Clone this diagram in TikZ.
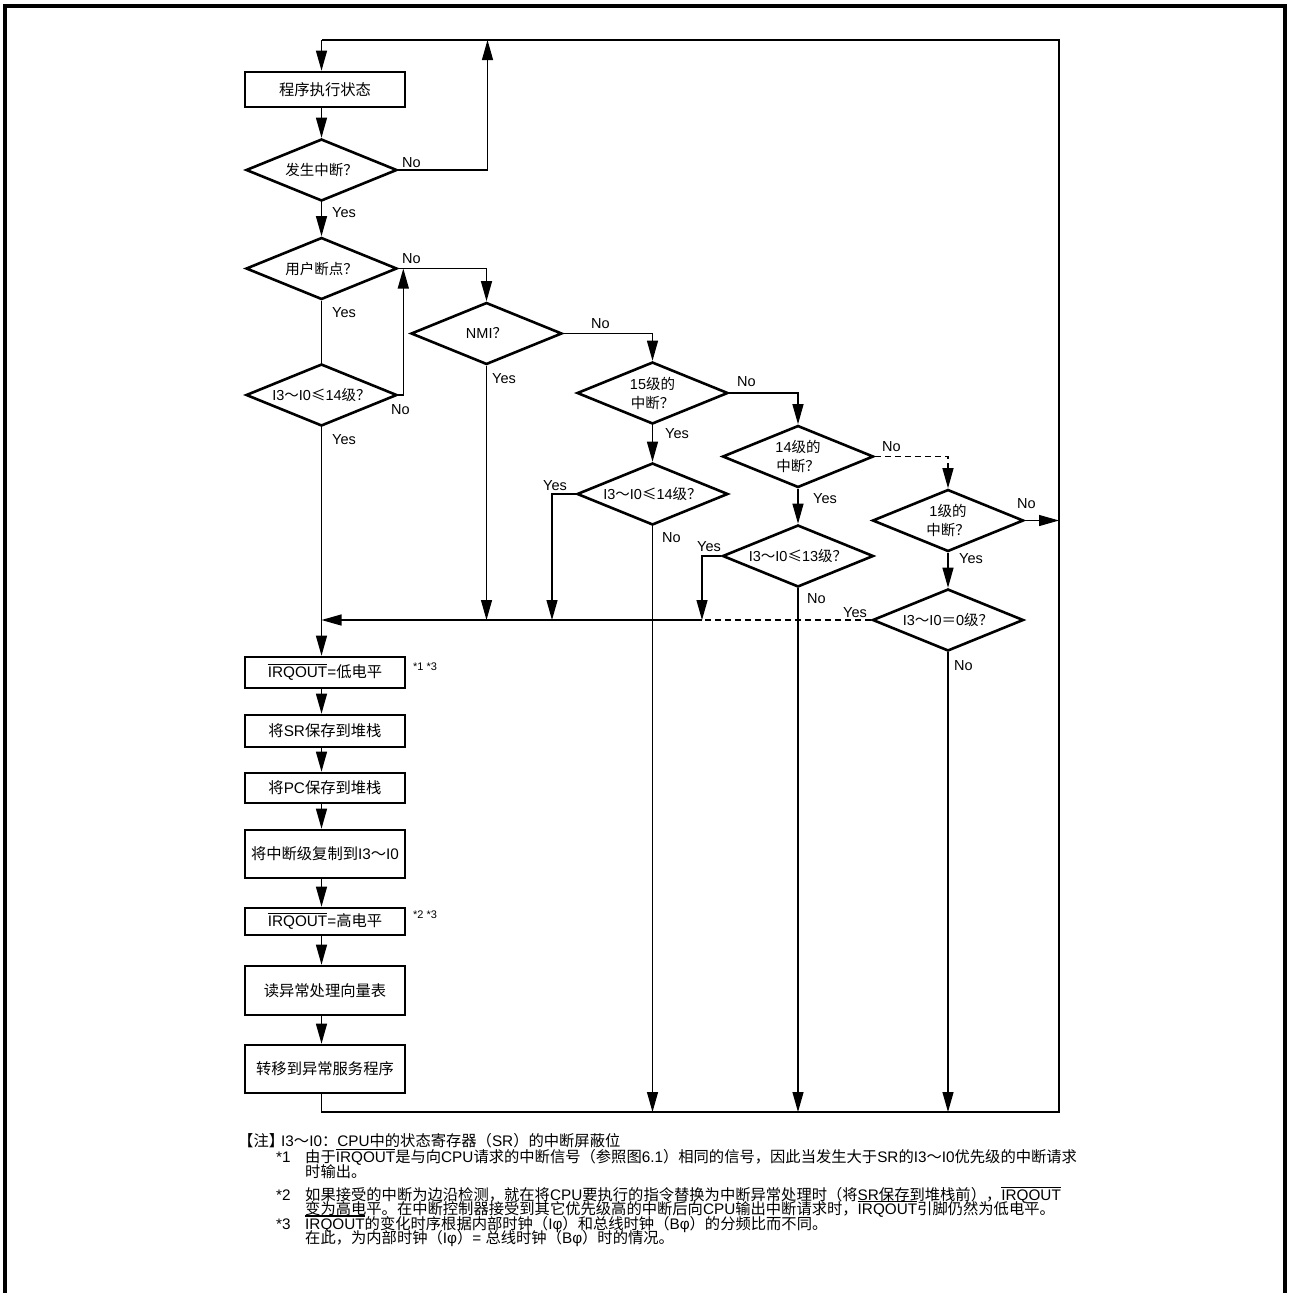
\documentclass[tikz,border=0pt]{standalone}
\usepackage{fontspec}
\setmainfont{Liberation Sans}
\newfontfamily\zhfont{Noto Sans CJK SC}
\usetikzlibrary{arrows.meta,shapes.geometric}
% Chinese runs inside mixed Latin text
\newcommand\z[1]{{\zhfont #1}}
% signal name with a bar over it (active-low)
\newcommand\ovl[1]{\leavevmode\vbox{\hrule height 1.1pt\kern 1.8pt\hbox{#1}}}

\begin{document}
\begin{tikzpicture}[x=1pt,y=-1pt,
  conn/.style={line width=1.2pt},
  arr/.style={conn,-{Triangle[length=20pt,width=11pt]}},
  dline/.style={conn,dash pattern=on 6pt off 4pt},
  stepbox/.style={draw,line width=2.6pt,minimum width=160pt,inner sep=0pt,
    font=\fontsize{15.3}{18}\selectfont},
  decision/.style={diamond,draw,line width=2.6pt,aspect=2.4,inner sep=0pt,
    minimum width=151pt,minimum height=62pt,align=center,
    font=\fontsize{14.5}{19}\selectfont},
  lbl/.style={anchor=base west,inner sep=0pt,font=\fontsize{14.5}{17}\selectfont},
  star/.style={anchor=base west,inner sep=0pt,font=\fontsize{11}{13}\selectfont},
  note/.style={anchor=base west,inner sep=0pt,text height=11pt,text depth=2pt,
    font=\fontsize{15.3}{18}\selectfont},
]
\fill[white] (0,0) rectangle (1290,1293);
\useasboundingbox (0,0) rectangle (1290,1293);

% page frame, open at the bottom
\draw[line width=3.5pt] (5,1293) -- (5,6) -- (1285,6) -- (1285,1293);

% ---- process boxes (left column) ----
\node[stepbox,minimum height=35pt] (B1) at (325,89.5) {\z{程序执行状态}};
\node[stepbox,minimum height=31pt] (B2) at (325,672.5) {\ovl{IRQOUT}=\z{低电平}};
\node[stepbox,minimum height=32pt] (B3) at (325,731) {\z{将}SR\z{保存到堆栈}};
\node[stepbox,minimum height=30pt] (B4) at (325,788) {\z{将}PC\z{保存到堆栈}};
\node[stepbox,minimum height=48pt] (B5) at (325,854) {\z{将中断级复制到}I3\z{～}I0};
\node[stepbox,minimum height=27pt] (B6) at (325,921.5) {\ovl{IRQOUT}=\z{高电平}};
\node[stepbox,minimum height=49pt] (B7) at (325,990.5) {\z{读异常处理向量表}};
\node[stepbox,minimum height=48pt] (B8) at (325,1069) {\z{转移到异常服务程序}};

% ---- decisions ----
\node[decision] (D1) at (321.5,170) {\z{发生中断？}};
\node[decision] (D2) at (321.5,268.5) {\z{用户断点？}};
\node[decision] (D3) at (321.5,395) {I3\z{～}I0\z{≤}14\z{级？}};
\node[decision] (D4) at (486.5,333.5) {NMI\z{？}};
\node[decision] (D5) at (652.5,393) {15\z{级的}\\\z{中断？}};
\node[decision] (D6) at (652.5,494) {I3\z{～}I0\z{≤}14\z{级？}};
\node[decision] (D7) at (798,456.5) {14\z{级的}\\\z{中断？}};
\node[decision] (D8) at (798,556) {I3\z{～}I0\z{≤}13\z{级？}};
\node[decision] (D9) at (948,520.5) {1\z{级的}\\\z{中断？}};
\node[decision] (D10) at (948,620) {I3\z{～}I0\z{＝}0\z{级？}};

% ---- routing points ----
\coordinate (tl) at (321.5,40);
\coordinate (tr) at (1059,40);
\coordinate (br) at (1059,1112);
\coordinate (bl) at (321.5,1112);
\coordinate (up) at (487.5,40);
\coordinate (back) at (403.3,268.5);
\coordinate (mL) at (321.5,620);
\coordinate (m6) at (552,620);
\coordinate (m8) at (702,620);

% ---- connectors ----
\draw[conn] (B8.south -| bl) -- (bl) -- (br) -- (tr) -- (tl);
\draw[arr] (tl) -- (B1.north -| tl);
\draw[arr] (B1.south -| tl) -- (D1.north);
\draw[arr] (D1.east) -| (up);
\draw[arr] (D1.south) -- (D2.north);
\draw[arr] (D2.east) -| (D4.north);
\draw[conn] (D2.south) -- (D3.north);
\draw[arr] (D3.east) -| (back);
\draw[arr] (D3.south) -- (B2.north -| tl);
\draw[arr] (m8) -- (mL);
\draw[dline] (D10.west) -- (m8);
\draw[arr] (D4.south) -- (D4.south |- mL);
\draw[arr] (D4.east) -| (D5.north);
\draw[arr] (D5.south) -- (D6.north);
\draw[arr] (D5.east) -| (D7.north);
\draw[arr] (D6.west) -| (m6);
\draw[arr] (D6.south) -- (D6.south |- br);
\draw[arr] (D7.south) -- (D8.north);
\draw[arr,dline] (D7.east) -| (D9.north);
\draw[arr] (D8.west) -| (m8);
\draw[arr] (D8.south) -- (D8.south |- br);
\draw[arr] (D9.east) -- (D9.east -| br);
\draw[arr] (D9.south) -- (D10.north);
\draw[arr] (D10.south) -- (D10.south |- br);

\draw[arr] (B2.south -| tl) -- (B3.north -| tl);
\draw[arr] (B3.south -| tl) -- (B4.north -| tl);
\draw[arr] (B4.south -| tl) -- (B5.north -| tl);
\draw[arr] (B5.south -| tl) -- (B6.north -| tl);
\draw[arr] (B6.south -| tl) -- (B7.north -| tl);
\draw[arr] (B7.south -| tl) -- (B8.north -| tl);

% ---- branch labels ----
\node[lbl] (l1n) at (402,167) {No};
\node[lbl] (l1y) at (332,217) {Yes};
\node[lbl] (l2n) at (402,263) {No};
\node[lbl] (l2y) at (332,317) {Yes};
\node[lbl] (l3n) at (391,414) {No};
\node[lbl] (l3y) at (332,444) {Yes};
\node[lbl] (l4y) at (492,383) {Yes};
\node[lbl] (l4n) at (591,328) {No};
\node[lbl] (l5n) at (737,386) {No};
\node[lbl] (l5y) at (665,438) {Yes};
\node[lbl] (l6y) at (543,490) {Yes};
\node[lbl] (l6n) at (662,542) {No};
\node[lbl] (l7n) at (882,451) {No};
\node[lbl] (l7y) at (813,503) {Yes};
\node[lbl] (l8y) at (697,551) {Yes};
\node[lbl] (l8n) at (807,603) {No};
\node[lbl] (l9n) at (1017,508) {No};
\node[lbl] (l9y) at (959,563) {Yes};
\node[lbl] (l10y) at (843,617) {Yes};
\node[lbl] (l10n) at (954,670) {No};

\node[star] (s1) at (413,670) {*1 *3};
\node[star] (s2) at (413,918) {*2 *3};

% ---- notes ----
\node[note] (n0a) at (238,1146.5) {\z{【注】}};
\node[note] (n0b) at (281,1146.5) {I3\z{～}I0\z{：}CPU\z{中的状态寄存器（}SR\z{）的中断屏蔽位}};
\node[note] (n1a) at (276,1162.5) {*1};
\node[note] (n1b) at (305,1162.5) {\z{由于}\ovl{IRQOUT}\z{是与向}CPU\z{请求的中断信号（参照图}6.1\z{）相同的信号，因此当发生大于}SR\z{的}I3\z{～}I0\z{优先级的中断请求}};
\node[note] (n1c) at (305,1177.5) {\z{时输出。}};
\node[note] (n2a) at (276,1200.5) {*2};
\node[note] (n2b) at (305,1200.5) {\z{如果接受的中断为边沿检测，就在将}CPU\z{要执行的指令替换为中断异常处理时（将}SR\z{保存到堆栈前），}\ovl{IRQOUT}};
\node[note] (n2c) at (305,1214.5) {\z{变为高电平。在中断控制器接受到其它优先级高的中断后向}CPU\z{输出中断请求时，}\ovl{IRQOUT}\z{引脚仍然为低电平。}};
\node[note] (n3a) at (276,1229) {*3};
\node[note] (n3b) at (305,1229) {\ovl{IRQOUT}\z{的变化时序根据内部时钟（}Iφ\z{）和总线时钟（}Bφ\z{）的分频比而不同。}};
\node[note] (n3c) at (305,1243.5) {\z{在此，为内部时钟（}Iφ\z{）}= \z{总线时钟（}Bφ\z{）时的情况。}};
\end{tikzpicture}
\end{document}
